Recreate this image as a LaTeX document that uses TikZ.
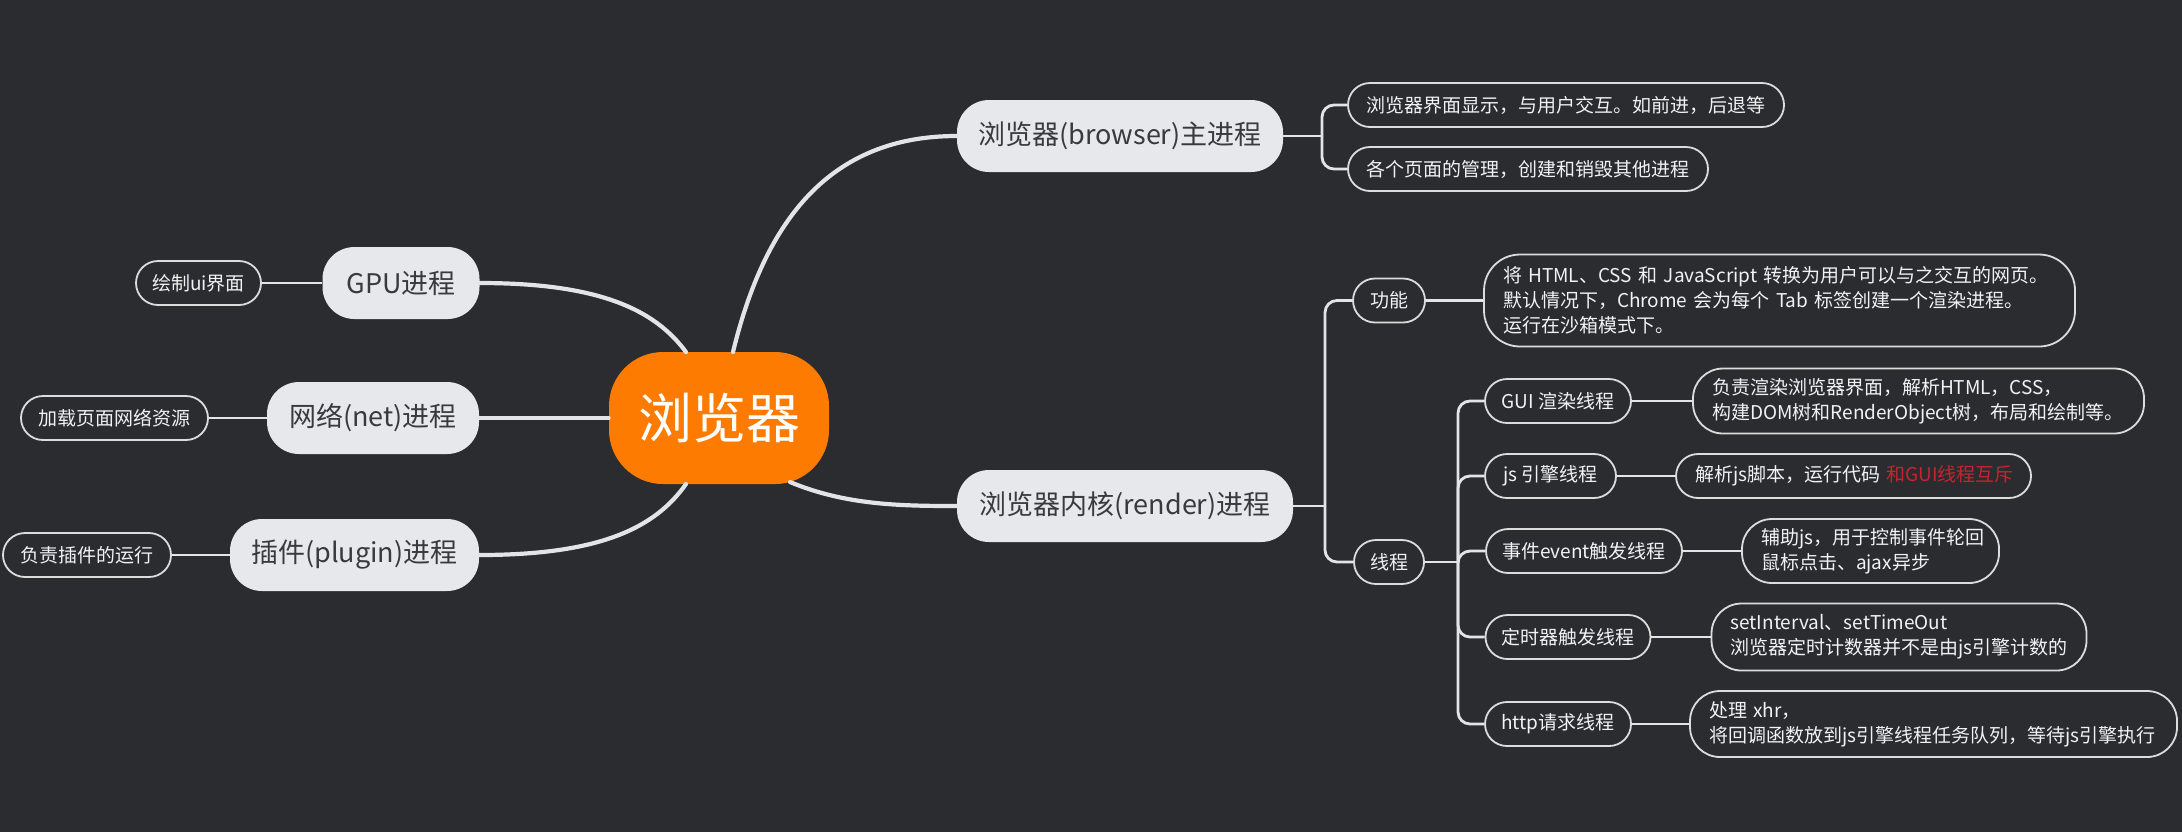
\documentclass[tikz,border=0pt]{standalone}
\usepackage{fontspec}
\setmainfont{Noto Sans CJK SC}
\definecolor{bgc}{HTML}{2B2C30}
\definecolor{mainfill}{HTML}{E6E8EC}
\definecolor{maintext}{HTML}{3A3A3C}
\definecolor{linec}{HTML}{E2E4E8}
\definecolor{leafline}{HTML}{DCDCDC}
\definecolor{leaftext}{HTML}{F2F2F2}
\definecolor{orangec}{HTML}{FD7B00}
\definecolor{redc}{HTML}{C8232E}
\tikzset{
  rootnode/.style={fill=orangec, text=white, font=\fontsize{27pt}{30pt}\selectfont,
    minimum width=110pt, minimum height=66pt, rounded corners=27pt, inner sep=0pt},
  mainnode/.style={fill=mainfill, text=maintext, font=\fontsize{13.5pt}{16pt}\selectfont,
    minimum height=36pt, rounded corners=16pt, inner sep=0pt},
  leafnode/.style={draw=leafline, line width=0.9pt, fill=bgc, text=leaftext,
    font=\fontsize{9.5pt}{12.5pt}\selectfont, minimum height=22pt, rounded corners=11pt, inner sep=0pt},
  descnode/.style={leafnode, align=left, inner xsep=9.5pt, inner ysep=0pt},
  conn/.style={draw=linec, line width=1.4pt},
  elbow/.style={draw=linec, line width=1.4pt, rounded corners=6pt},
  bigcurve/.style={draw=linec, line width=2.1pt, line cap=round},
}
\begin{document}
\begin{tikzpicture}[x=0.5pt, y=-0.5pt]
\useasboundingbox[fill=bgc] (0,0) rectangle (2182,832);

% root
\node[rootnode] (c) at (719,418) {浏览器};

% main branches
\node[mainnode, minimum width=163pt] (br) at (1120,136) {浏览器(browser)主进程};
\node[mainnode, minimum width=168pt] (rd) at (1125,506) {浏览器内核(render)进程};
\node[mainnode, minimum width=78.5pt] (gpu) at (401,283) {GPU进程};
\node[mainnode, minimum width=106pt] (net) at (373,418) {网络(net)进程};
\node[mainnode, minimum width=124.5pt] (plg) at (354.5,555) {插件(plugin)进程};

% left leaves
\node[leafnode, minimum width=62.5pt] (gpul) at (198.5,283) {绘制ui界面};
\node[leafnode, minimum width=93.5pt] (netl) at (114.5,418) {加载页面网络资源};
\node[leafnode, minimum width=84pt] (plgl) at (87,555) {负责插件的运行};

% browser leaves
\node[leafnode, minimum width=218pt] (bl1) at (1566,105) {浏览器界面显示，与用户交互。如前进，后退等};
\node[leafnode, minimum width=180pt] (bl2) at (1528,169) {各个页面的管理，创建和销毁其他进程};

% render children
\node[leafnode, minimum width=36pt] (gn) at (1389,300.5) {功能};
\node[leafnode, minimum width=35pt] (xc) at (1389,562) {线程};
\node[descnode, text width=276.5pt, minimum height=46pt, rounded corners=18pt] (gnd) at (1779.5,300.5)
  {\mbox{将 HTML、CSS 和 JavaScript 转换为用户可以与之交互的网页。}\\\mbox{默认情况下，Chrome 会为每个 Tab 标签创建一个渲染进程。}\\\mbox{运行在沙箱模式下。}};

% threads
\node[leafnode, minimum width=73pt] (gui) at (1558,401) {GUI 渲染线程};
\node[leafnode, minimum width=65.5pt] (js) at (1550.5,476) {js 引擎线程};
\node[leafnode, minimum width=98pt] (ev) at (1584,551) {事件event触发线程};
\node[leafnode, minimum width=82.5pt] (tm) at (1568,637) {定时器触发线程};
\node[leafnode, minimum width=73pt] (ht) at (1558,724) {http请求线程};

\node[descnode, text width=206.5pt, minimum height=32.5pt, rounded corners=15pt] (guid) at (1918.5,401)
  {\mbox{负责渲染浏览器界面，解析HTML，CSS，}\\\mbox{构建DOM树和RenderObject树，布局和绘制等。}};
\node[descnode, text width=158.5pt, minimum height=22pt] (jsd) at (1853.5,476)
  {\mbox{解析js脚本，运行代码 {\color{redc}和GUI线程互斥}}};
\node[descnode, text width=109.5pt, minimum height=32pt, rounded corners=15pt] (evd) at (1870.5,551)
  {\mbox{辅助js，用于控制事件轮回}\\\mbox{鼠标点击、ajax异步}};
\node[descnode, text width=168.5pt, minimum height=33.5pt, rounded corners=15pt] (tmd) at (1899,637)
  {\mbox{setInterval、setTimeOut}\\\mbox{浏览器定时计数器并不是由js引擎计数的}};
\node[descnode, text width=224.5pt, minimum height=33pt, rounded corners=15pt] (htd) at (1933.5,724)
  {\mbox{处理 xhr，}\\\mbox{将回调函数放到js引擎线程任务队列，等待js引擎执行}};

% junction coordinates
\coordinate (cgpu) at (686,352);
\coordinate (cbr) at (733,352);
\coordinate (cplg) at (686,484);
\coordinate (crd) at (790,482);
\coordinate (bj) at (1322,136);
\coordinate (rj) at (1325,506);
\coordinate (tj) at (1458,562);

% big curves from root
\draw[bigcurve] (gpu.east) .. controls (600,283) and (655,310) .. (cgpu);
\draw[bigcurve] (plg.east) .. controls (600,555) and (655,528) .. (cplg);
\draw[bigcurve] (cbr) .. controls (765,220) and (830,136) .. (br.west);
\draw[bigcurve] (crd) .. controls (845,505) and (900,506) .. (rd.west);
\draw[bigcurve] (c.west) -- (net.east);

% left leaf connectors
\draw[conn] (gpu.west) -- (gpul.east);
\draw[conn] (net.west) -- (netl.east);
\draw[conn] (plg.west) -- (plgl.east);

% browser leaves
\draw[conn] (br.east) -- (bj);
\draw[elbow] (bj) |- (bl1.west);
\draw[elbow] (bj) |- (bl2.west);

% render children
\draw[conn] (rd.east) -- (rj);
\draw[elbow] (rj) |- (gn.west);
\draw[elbow] (rj) |- (xc.west);
\draw[conn] (gn.east) -- (gnd.west);

% threads
\draw[conn] (xc.east) -- (tj);
\draw[elbow] (tj) |- (gui.west);
\draw[elbow] (tj) |- (js.west);
\draw[elbow] (tj) |- (ev.west);
\draw[elbow] (tj) |- (tm.west);
\draw[elbow] (tj) |- (ht.west);

\draw[conn] (gui.east) -- (guid.west);
\draw[conn] (js.east) -- (jsd.west);
\draw[conn] (ev.east) -- (evd.west);
\draw[conn] (tm.east) -- (tmd.west);
\draw[conn] (ht.east) -- (htd.west);
\end{tikzpicture}
\end{document}
